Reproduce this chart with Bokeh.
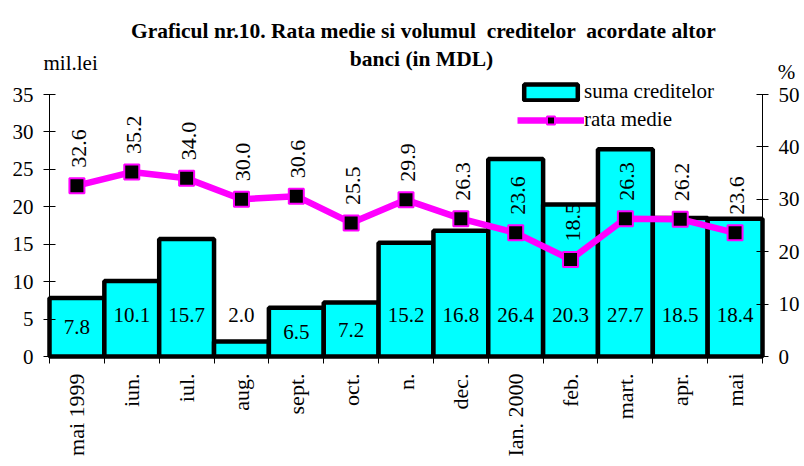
import numpy as np
from bokeh.plotting import figure
from bokeh.models import (ColumnDataSource, Range1d, LinearAxis, FixedTicker, Label,
                          Legend, LegendItem)
from bokeh.core.properties import value
from bokeh.embed import file_html
from bokeh.resources import INLINE

categories = ["mai 1999", "iun.", "iul.", "aug.", "sept.", "oct.", "n.", "dec.",
              "Ian. 2000", "feb.", "mart.", "apr.", "mai"]
suma_creditelor = [7.8, 10.1, 15.7, 2.0, 6.5, 7.2, 15.2, 16.8, 26.4, 20.3, 27.7, 18.5, 18.4]
rata_medie = [32.6, 35.2, 34.0, 30.0, 30.6, 25.5, 29.9, 26.3, 23.6, 18.5, 26.3, 26.2, 23.6]
left_ticks = [0, 5, 10, 15, 20, 25, 30, 35]
right_ticks = [0, 10, 20, 30, 40, 50]

FONT = "Liberation Serif"
W, H = 800, 464
# frame geometry in page pixels (layout only)
FX0, FX1, FY0, FY35 = 49, 762, 356, 94
n = len(categories)
centers = np.arange(n) + 0.5
v = np.array(suma_creditelor)
label_y = np.where((v > 4) & (v < 9), v / 2, 5.5)

sx = (FX1 - FX0) / n
sy = (FY0 - FY35) / 35.0
sr = (FY0 - FY35) / 50.0
x_range = Range1d(-FX0 / sx, n + (W - FX1) / sx)
y_range = Range1d(-(H - FY0) / sy, FY0 / sy)
r_range = Range1d(-(H - FY0) / sr, FY0 / sr)

src = ColumnDataSource(dict(
    x=centers, suma=v, rata=rata_medie,
    suma_txt=[f"{a:.1f}" for a in suma_creditelor],
    rata_txt=[f"{a:.1f}" for a in rata_medie],
    label_y=label_y,
))

p = figure(width=W, height=H, output_backend="svg", toolbar_location=None,
           x_range=x_range, y_range=y_range, min_border=0,
           y_axis_location=None, x_axis_location=None)
p.extra_y_ranges = {"r": r_range}
p.outline_line_color = None
p.xgrid.visible = False
p.ygrid.visible = False
p.background_fill_color = "white"
p.border_fill_color = "white"

# axes
yl = LinearAxis(ticker=FixedTicker(ticks=left_ticks), bounds=(0, 35), fixed_location=0)
yr = LinearAxis(ticker=FixedTicker(ticks=right_ticks), bounds=(0, 50), y_range_name="r",
                fixed_location=n)
for ax in (yl, yr):
    ax.major_tick_in = 6
    ax.major_tick_out = 6
    ax.minor_tick_line_color = None
    ax.major_label_text_font = FONT
    ax.major_label_text_font_size = "21px"
    ax.major_label_text_color = "black"
    ax.axis_line_color = "black"
    ax.major_tick_line_color = "black"
    ax.major_label_standoff = 10
p.add_layout(yl, "left")
p.add_layout(yr, "right")

xa = LinearAxis(ticker=FixedTicker(ticks=list(centers), minor_ticks=list(range(n + 1))),
                bounds=(0, n), fixed_location=0)
xa.major_label_overrides = {float(c): lab for c, lab in zip(centers, categories)}
xa.major_label_orientation = np.pi / 2
xa.major_tick_in = 0
xa.major_tick_out = 0
xa.minor_tick_in = 0
xa.minor_tick_out = 7
xa.minor_tick_line_color = "black"
xa.major_label_text_font = FONT
xa.major_label_text_font_size = "22px"
xa.major_label_text_color = "black"
xa.major_label_standoff = 10
xa.axis_line_color = "black"
p.add_layout(xa, "below")

bars = p.vbar(x="x", top="suma", width=1.0, bottom=0, source=src,
              fill_color="#00FFFF", line_color="black", line_width=4.5)
line = p.line(x="x", y="rata", source=src, y_range_name="r",
              line_color="#FF00FF", line_width=6.5)
pts = p.scatter(x="x", y="rata", source=src, y_range_name="r", marker="square",
                size=15, fill_color="black", line_color="#FF00FF", line_width=2)

p.text(x="x", y="label_y", text="suma_txt", source=src, text_align="center",
       text_baseline="middle", text_font=value(FONT), text_font_size="21px",
       text_color="black")
p.text(x="x", y="rata", text="rata_txt", source=src, y_range_name="r",
       angle=np.pi / 2, text_align="left", text_baseline="middle",
       y_offset=-18, x_offset=2, text_font=value(FONT), text_font_size="22px",
       text_color="black")

legend = Legend(items=[LegendItem(label="suma creditelor", renderers=[bars]),
                       LegendItem(label="rata medie", renderers=[line, pts])],
                location=(517, 332), glyph_width=67, glyph_height=20, spacing=3,
                padding=2, margin=0, label_standoff=0, border_line_color=None,
                background_fill_alpha=0, label_text_font=FONT,
                label_text_font_size="21px", label_text_color="black")
p.add_layout(legend)

def page_label(x, y, text, align, size, bold=False):
    return Label(x=x, y=H - y, x_units="screen", y_units="screen", text=text,
                 text_align=align, text_baseline="alphabetic", text_font=FONT,
                 text_font_size=size, text_font_style="bold" if bold else "normal",
                 text_color="black")

NB = "\u00a0"
p.add_layout(page_label(423, 30,
                        f"Graficul nr.10. Rata medie si volumul {NB}creditelor {NB}acordate altor",
                        "center", "21.5px", True))
p.add_layout(page_label(421, 58, "banci (in MDL)", "center", "21.5px", True))
p.add_layout(page_label(43, 62, "mil.lei", "left", "21px"))
p.add_layout(page_label(786, 71, "%", "center", "21px"))

open("out.html", "w").write(file_html(p, INLINE))
